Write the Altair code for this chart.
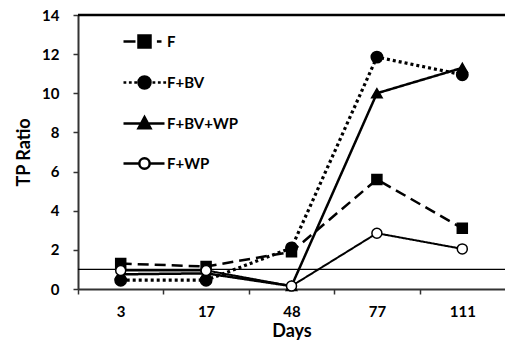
import altair as alt
import pandas as pd

# Sampling days (categorical x axis) and treatment series
DAYS = ["3", "17", "48", "77", "111"]
SERIES = ["F", "F+BV", "F+BV+WP", "F+WP"]

# TP ratio per treatment, one value per sampling day
F = [1.3, 1.15, 1.9, 5.6, 3.1]
F_BV = [0.45, 0.45, 2.1, 11.85, 10.95]
F_BV_WP = [0.75, 0.8, 0.15, 10.0, 11.3]
F_WP = [0.95, 0.95, 0.15, 2.85, 2.05]

REFERENCE_RATIO = 1.0
Y_MAX = 14

# Line and marker style of each series
LINE_DASHES = [[11, 6], [3, 3], [1, 0], [1, 0]]
LINE_WIDTHS = [2.5, 3.2, 2.5, 2]
MARKER_SHAPES = ["square", "circle", "triangle-up", "circle"]
MARKER_FILLS = ["black", "black", "black", "white"]
MARKER_SIZES = [100, 130, 110, 100]

rows = []
for name, vals in zip(SERIES, [F, F_BV, F_BV_WP, F_WP]):
    for d, v in zip(DAYS, vals):
        rows.append({"series": name, "day": d, "value": v})
df = pd.DataFrame(rows)

FONT = "Lato"
W, H = 427, 274
STEP = W / len(DAYS)

x = alt.X(
    "day:N",
    sort=DAYS,
    scale=alt.Scale(domain=DAYS),
    axis=alt.Axis(title="Days", labelAngle=0, tickOffset=-STEP / 2,
                  labelOffset=STEP / 2, labelPadding=10, titlePadding=3),
)
y = alt.Y(
    "value:Q",
    scale=alt.Scale(domain=[0, Y_MAX], nice=False),
    axis=alt.Axis(title="TP Ratio", values=list(range(0, Y_MAX + 1, 2)),
                  labelPadding=14, titlePadding=8),
)

# One line layer per series
line_layers = [
    alt.Chart(df)
    .transform_filter(alt.datum.series == name)
    .mark_line(color="black", strokeDash=dash, strokeWidth=width)
    .encode(x=x, y=y)
    for name, dash, width in zip(SERIES, LINE_DASHES, LINE_WIDTHS)
]

# One marker layer per series, drawn in series order
marker_layers = [
    alt.Chart(df)
    .transform_filter(alt.datum.series == name)
    .mark_point(shape=shape, fill=fill, stroke="black", strokeWidth=1.5,
                opacity=1, size=size, filled=False)
    .encode(x=x, y=y)
    for name, shape, fill, size in zip(SERIES, MARKER_SHAPES, MARKER_FILLS, MARKER_SIZES)
]

ref_rule = alt.Chart(pd.DataFrame({"value": [REFERENCE_RATIO]})).mark_rule(
    color="black", strokeWidth=1.2
).encode(y=y)

top_rule = alt.Chart(pd.DataFrame({"value": [Y_MAX]})).mark_rule(
    color="black", strokeWidth=2.5
).encode(y=y)

# Legend symbols: line style sample with the marker in the middle
LEGEND_PATHS = [
    "M-1.05,0H-0.45M-0.3,-0.3H0.3V0.3H-0.3ZM0.62,0H0.85",
    "M-1.05,0h0.14M-0.78,0h0.14M-0.51,0h0.14"
    "M-0.3,0A0.3,0.3,0,1,0,0.3,0A0.3,0.3,0,1,0,-0.3,0Z"
    "M0.4,0h0.14M0.67,0h0.14M0.94,0h0.14",
    "M-1.05,0H1M0,-0.32L0.3,0.24H-0.3Z",
    "M-1.05,0H-0.26M0.26,0H1M-0.26,0A0.26,0.26,0,1,0,0.26,0A0.26,0.26,0,1,0,-0.26,0Z",
]

legend_def = alt.Legend(
    title=None,
    orient="none",
    legendX=45,
    legendY=5,
    padding=0,
    rowPadding=8,
    symbolSize=1600,
    symbolStrokeWidth=2.5,
    symbolOpacity=1,
    labelFont=FONT,
    labelFontSize=15,
    labelFontWeight="bold",
    labelColor="black",
    labelOffset=1,
)

# Transparent layer that only carries the legend
legend_layer = alt.Chart(df).mark_point(strokeWidth=2.5, opacity=0, size=1600).encode(
    x=x,
    y=y,
    shape=alt.Shape("series:N", scale=alt.Scale(domain=SERIES, range=LEGEND_PATHS),
                    legend=legend_def),
    fill=alt.Fill("series:N", scale=alt.Scale(domain=SERIES, range=MARKER_FILLS),
                  legend=legend_def),
    stroke=alt.Stroke("series:N", scale=alt.Scale(domain=SERIES, range=["black"] * 4),
                      legend=legend_def),
)

chart = (
    alt.layer(ref_rule, top_rule, *line_layers, *marker_layers, legend_layer)
    .properties(
        width=W,
        height=H,
        autosize=alt.AutoSizeParams(type="none"),
        padding={"left": 78, "top": 15, "right": 0, "bottom": 58},
        background="white",
    )
    .configure_view(stroke=None)
    .configure_axis(
        grid=False,
        domainColor="#333333",
        domainWidth=2,
        tickColor="#333333",
        tickWidth=1.5,
        tickSize=5,
        labelFont=FONT,
        labelFontSize=15,
        labelFontWeight="bold",
        labelColor="black",
        titleFont=FONT,
        titleFontSize=18,
        titleFontWeight="bold",
        titleColor="black",
    )
)

chart.save("out.html", embed_options={"renderer": "svg", "actions": False})
